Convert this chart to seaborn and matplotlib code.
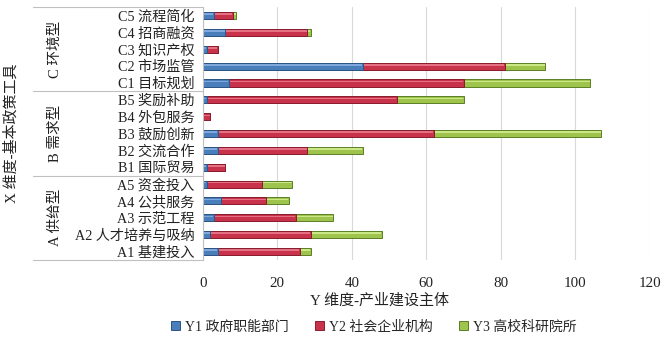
import matplotlib
matplotlib.use("Agg")
import matplotlib.pyplot as plt
import seaborn as sns
import pandas as pd
from matplotlib.patches import Patch, Rectangle
from matplotlib.transforms import blended_transform_factory

# Policy tools (rows, top to bottom) and their groups
categories = ["C5 流程简化", "C4 招商融资", "C3 知识产权", "C2 市场监管", "C1 目标规划",
              "B5 奖励补助", "B4 外包服务", "B3 鼓励创新", "B2 交流合作", "B1 国际贸易",
              "A5 资金投入", "A4 公共服务", "A3 示范工程", "A2 人才培养与吸纳", "A1 基建投入"]
groups = ["C 环境型", "B 需求型", "A 供给型"]
group_sizes = [5, 5, 5]

# Counts per industry-building actor
series = ["Y1 政府职能部门", "Y2 社会企业机构", "Y3 高校科研院所"]
y1 = [3, 6, 1, 43, 7, 1, 0, 4, 4, 1, 1, 5, 3, 2, 4]
y2 = [5, 22, 3, 38, 63, 51, 2, 58, 24, 5, 15, 12, 22, 27, 22]
y3 = [1, 1, 0, 11, 34, 18, 0, 45, 15, 0, 8, 6, 10, 19, 3]
xticks = [0, 20, 40, 60, 80, 100, 120]

colors = ["#4a7ebb", "#c8324a", "#9fc44e"]
edges = ["#2b5586", "#8a1c2e", "#5c7f25"]
shines = ["#86aee0", "#e8798a", "#d2ec8c"]

sns.set_theme(style="white")
plt.rcParams["font.family"] = ["Liberation Serif", "Noto Sans CJK SC"]
plt.rcParams["axes.unicode_minus"] = False

df = pd.DataFrame({"cat": categories, "Y1": y1, "Y2": y2, "Y3": y3})
df["c1"] = df["Y1"]
df["c2"] = df["Y1"] + df["Y2"]
df["c3"] = df["Y1"] + df["Y2"] + df["Y3"]

fig = plt.figure(figsize=(6.63, 3.41), dpi=100)
ax = fig.add_axes([0.306, 0.238, 0.674, 0.741])

# Stacked horizontal bars: draw cumulative totals back to front,
# each with a light sheen along its upper edge
for col, color, edge, shine in zip(["c3", "c2", "c1"], colors[::-1], edges[::-1], shines[::-1]):
    n_before = len(ax.patches)
    sns.barplot(data=df, x=col, y="cat", orient="h", color=color, width=0.42,
                edgecolor=edge, linewidth=0.7, saturation=1, ax=ax)
    for p in list(ax.patches[n_before:]):
        w = p.get_width()
        if w == 0:
            p.set_linewidth(0)
            continue
        h = p.get_height()
        ax.add_patch(Rectangle((p.get_x() + 0.15, p.get_y() + h * 0.2), max(w - 0.3, 0),
                               h * 0.22, facecolor=shine, edgecolor="none",
                               alpha=0.9, zorder=p.get_zorder()))

ax.set_xlim(0, 120)
ax.set_xticks(xticks)
ax.set_ylim(len(categories) - 0.5, -0.5)
ax.grid(axis="x", color="#d9d9d9", linewidth=0.8)
ax.grid(axis="y", visible=False)
ax.set_axisbelow(True)
for s in ["top", "right", "bottom"]:
    ax.spines[s].set_visible(False)
ax.spines["left"].set_color("#c0c0c0")
ax.spines["left"].set_linewidth(0.8)
ax.tick_params(axis="y", length=0, pad=6, labelsize=10.2, colors="#222222")
ax.tick_params(axis="x", length=0, pad=12, labelsize=10.8, colors="#222222")
ax.set_xlabel("")
ax.set_ylabel("")

# Group brackets on the category axis
trans = blended_transform_factory(ax.transAxes, ax.transData)
bounds = [-0.5]
for n in group_sizes:
    bounds.append(bounds[-1] + n)
for yv in bounds:
    ax.plot([-0.38, 0], [yv, yv], transform=trans, color="#c0c0c0",
            linewidth=0.8, clip_on=False)
for g, lo, hi in zip(groups, bounds[:-1], bounds[1:]):
    ax.text(-0.331, (lo + hi) / 2, g, transform=trans, rotation=90,
            ha="center", va="center", fontsize=10.5, color="#222222")

fig.text(12 / 663, 1 - 133 / 341, "X 维度-基本政策工具", rotation=90,
         ha="center", va="center", fontsize=10.8, color="#222222")
fig.text(380 / 663, 1 - 300 / 341, "Y 维度-产业建设主体",
         ha="center", va="center", fontsize=10.8, color="#222222")

handles = [Patch(facecolor=c, edgecolor=e, linewidth=0.7) for c, e in zip(colors, edges)]
fig.legend(handles, series, loc="center", bbox_to_anchor=(374 / 663, 1 - 327 / 341),
           ncol=3, frameon=False, handlelength=0.6, handleheight=0.6,
           handletextpad=0.4, columnspacing=1.9, fontsize=10)

fig.savefig("out.png", dpi=100)
